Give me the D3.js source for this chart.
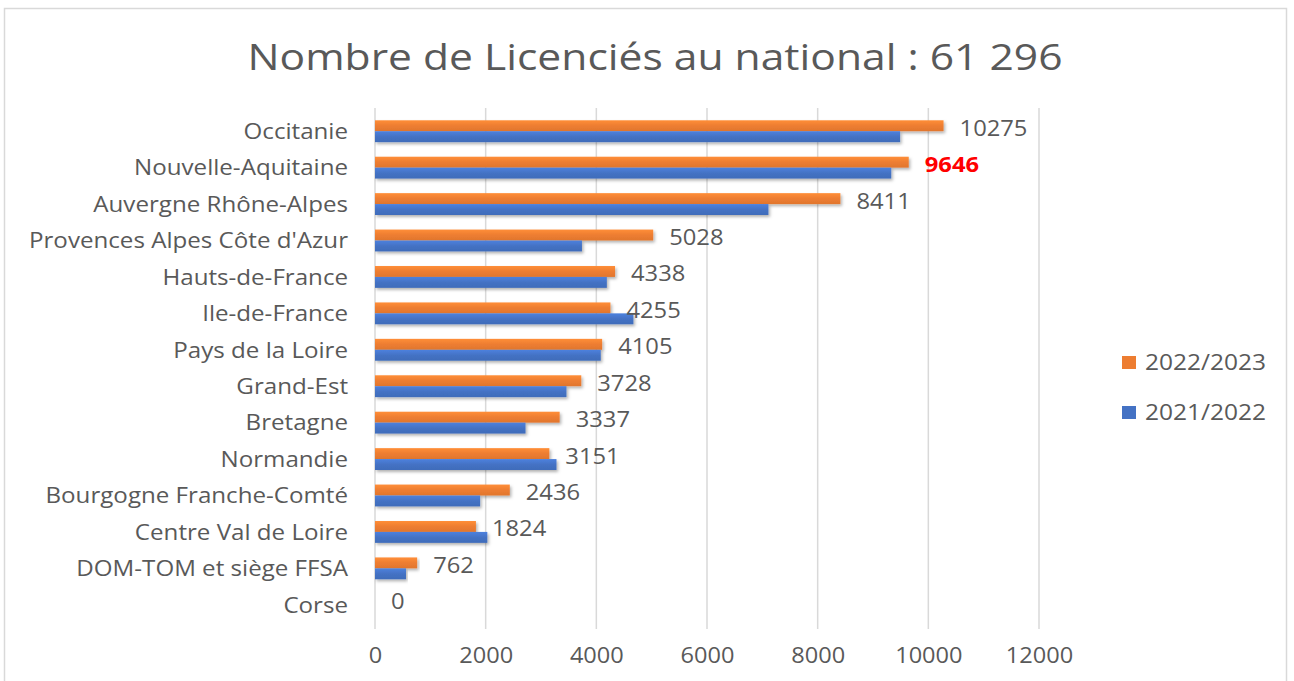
<!DOCTYPE html>
<html><head><meta charset="utf-8">
<script src="https://cdn.jsdelivr.net/npm/d3@7"></script>
<style>body{margin:0;background:#fff;}svg{display:block;}</style>
</head><body>
<svg id="c" width="1294" height="681"></svg>
<script>
const categories = ["Occitanie","Nouvelle-Aquitaine","Auvergne Rhône-Alpes","Provences Alpes Côte d'Azur","Hauts-de-France","Ile-de-France","Pays de la Loire","Grand-Est","Bretagne","Normandie","Bourgogne Franche-Comté","Centre Val de Loire","DOM-TOM et siège FFSA","Corse"];
const values2223 = [10275,9646,8411,5028,4338,4255,4105,3728,3337,3151,2436,1824,762,0];
const values2122 = [9490,9330,7110,3740,4190,4670,4080,3460,2720,3280,1900,2030,560,0];
const seriesNames = ["2022/2023","2021/2022"];
const xTicks = [0,2000,4000,6000,8000,10000,12000];
const title = "Nombre de Licenciés au national : 61 296";

const svg = d3.select("#c");
const font = "'Open Sans', sans-serif";
const txt = "#595959";
const colors = ["#ED7D31","#4472C4"];
const fs = 21;

function stretch(sel, k){
  sel.each(function(){
    const L = this.getComputedTextLength();
    if (L>0) d3.select(this).attr("textLength", L*k).attr("lengthAdjust","spacingAndGlyphs");
  });
}

// frame
svg.append("rect").attr("x",4.5).attr("y",8.5).attr("width",1282).attr("height",690)
  .attr("fill","#fff").attr("stroke","#d9d9d9").attr("stroke-width",1.5);

const defs = svg.append("defs");
const f = defs.append("filter").attr("id","sh").attr("x","-5%").attr("y","-30%").attr("width","110%").attr("height","190%");
f.append("feDropShadow").attr("dx",1.5).attr("dy",2).attr("stdDeviation",1.5).attr("flood-color","#000").attr("flood-opacity",0.3);
colors.forEach((c,i)=>{
  const g = defs.append("linearGradient").attr("id","g"+i).attr("x1",0).attr("y1",0).attr("x2",0).attr("y2",1);
  g.append("stop").attr("offset","0%").attr("stop-color",d3.color(c).brighter(0.35));
  g.append("stop").attr("offset","50%").attr("stop-color",c);
  g.append("stop").attr("offset","100%").attr("stop-color",d3.color(c).darker(0.15));
});

const x = d3.scaleLinear().domain([0,12000]).range([375,1039]);
const y = d3.scaleBand().domain(categories).range([113,623]).paddingInner(0.4).paddingOuter(0.2);
const ys = d3.scaleBand().domain(seriesNames).range([0,y.bandwidth()]);

// title
svg.append("text").attr("x",655).attr("y",70).attr("text-anchor","middle")
  .attr("font-family",font).attr("font-size",37).attr("fill",txt)
  .attr("textLength",815).attr("lengthAdjust","spacingAndGlyphs").text(title);

// grid
svg.append("g").selectAll("line").data(xTicks).join("line")
  .attr("x1",d=>x(d)).attr("x2",d=>x(d)).attr("y1",108).attr("y2",629)
  .attr("stroke","#d9d9d9").attr("stroke-width",1.5);

// x axis labels
const xa = svg.append("g").attr("transform","translate(0,629)")
  .call(d3.axisBottom(x).tickValues(xTicks).tickSize(0).tickPadding(19).tickFormat(d3.format("d")));
xa.select(".domain").remove();
xa.selectAll("text").attr("font-family",font).attr("font-size",fs).attr("fill",txt).call(stretch,1.24*19/fs);

// y axis labels
const yaG = svg.append("g").attr("transform","translate(348,1)")
  .call(d3.axisLeft(y).tickSize(0).tickPadding(0));
yaG.select(".domain").remove();
yaG.selectAll("text").attr("font-family",font).attr("font-size",fs).attr("fill",txt).call(stretch,1.27*19/fs);

// bars
const series = [values2223, values2122];
series.forEach((vals,si)=>{
  svg.append("g").selectAll("rect").data(categories).join("rect")
    .attr("x",x(0)).attr("y",(d)=>y(d)+ys(seriesNames[si]))
    .attr("width",(d,i)=>x(vals[i])-x(0)).attr("height",ys.bandwidth())
    .attr("fill","url(#g"+si+")").attr("filter","url(#sh)");
});

// value labels
svg.append("g").selectAll("text").data(categories).join("text")
  .attr("x",(d,i)=>x(values2223[i])+16)
  .attr("y",(d)=>y(d)+ys(seriesNames[0])+ys.bandwidth()/2+10)
  .attr("font-family",font).attr("font-size",fs)
  .attr("fill",(d)=>d==="Nouvelle-Aquitaine"?"#FF0000":txt)
  .attr("font-weight",(d)=>d==="Nouvelle-Aquitaine"?"bold":"normal")
  .text((d,i)=>values2223[i]).call(stretch,1.25*19/fs);

// legend
const lg = svg.append("g").selectAll("g").data(seriesNames).join("g")
  .attr("transform",(d,i)=>`translate(1122,${356+i*50})`);
lg.append("rect").attr("width",14).attr("height",13).attr("fill",(d,i)=>colors[i]);
lg.append("text").attr("x",23).attr("y",14).attr("font-family",font).attr("font-size",fs).attr("fill",txt).text(d=>d).call(stretch,1.29*19/fs);
</script>
</body></html>
